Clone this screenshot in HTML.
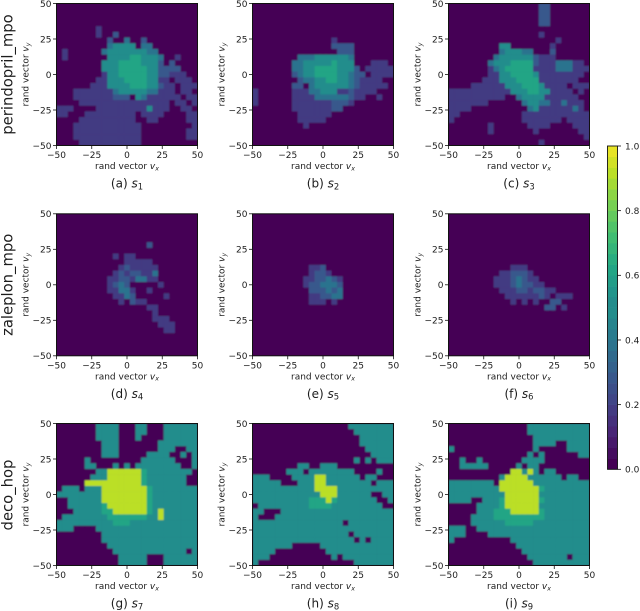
<!DOCTYPE html>
<html lang="en">
<head>
<meta charset="utf-8">
<title>Random vector heatmaps</title>
<style>
html,body{margin:0;padding:0;background:#fff;width:640px;height:611px;overflow:hidden}
svg{display:block}
text{font-family:"DejaVu Sans","Liberation Sans",sans-serif;fill:#1c1c1c}
</style>
</head>
<body>
<svg id="chart" width="640" height="611" viewBox="0 0 640 611" xmlns="http://www.w3.org/2000/svg">
<defs>
<filter id="soften" x="-5%" y="-5%" width="110%" height="110%"><feGaussianBlur stdDeviation="0.75"/></filter>
</defs>
</svg>
<script>
const xTicks = [-50, -25, 0, 25, 50];
const yTicks = [-50, -25, 0, 25, 50];
const colorbarTicks = [0, 0.2, 0.4, 0.6, 0.8, 1];
const rowNames = ['perindopril_mpo', 'zaleplon_mpo', 'deco_hop'];
const captionLetters = ['a', 'b', 'c', 'd', 'e', 'f', 'g', 'h', 'i'];
const viridisStops = ['#440154', '#482475', '#414487', '#355f8d', '#2a788e', '#21918c', '#22a884', '#44bf70', '#7ad151', '#bddf26', '#fde725'];
const blank = [0,0,0,0,0,0,0,0,0,0,0,0,0,0,0,0,0,0,0,0,0,0,0,0,0];

/* Heatmap values: tenths of the colour scale. Rows run from v_y = 50 down to -50, columns from v_x = -50 to 50. */
const s1Values = [
blank,blank,blank,blank,
[0,0,0,0,0, 0,0,2,0,0, 0,0,0,0,0, 0,0,0,0,0, 0,0,0,0,0],
[0,0,0,0,0, 0,0,2,0,0, 3,0,0,0,0, 0,0,0,0,0, 0,0,0,0,0],
[0,0,0,0,0, 0,0,0,0,3, 0,0,4,0,0, 3,0,0,0,0, 0,0,0,0,0],
[0,0,0,0,0, 0,0,0,0,4, 5,5,5,5,0, 4,4,0,0,0, 0,0,0,0,0],
[0,2,0,0,0, 0,0,0,4,5, 5,5,5,5,5, 5,4,4,0,0, 0,0,0,0,0],
[0,2,0,0,0, 0,0,0,0,5, 5,5,5,6,6, 5,5,5,4,0, 0,2,0,0,0],
[0,0,0,0,0, 0,0,0,5,5, 5,6,6,6,6, 5,5,5,3,0, 3,0,0,0,0],
[0,0,0,0,0, 0,0,0,5,5, 5,6,6,6,6, 6,5,5,3,3, 3,3,0,0,0],
[0,0,0,0,0, 0,0,0,2,5, 5,6,6,6,6, 6,5,5,3,3, 2,2,2,0,0],
[0,0,0,0,0, 0,0,2,2,5, 5,5,6,6,6, 6,5,5,2,2, 0,2,2,2,0],
[0,0,0,0,0, 0,2,2,2,5, 5,5,5,6,6, 6,5,5,3,2, 2,0,2,2,2],
[0,0,0,2,2, 2,2,2,2,2, 4,5,5,5,5, 5,4,4,2,2, 2,0,2,2,0],
[0,0,0,2,2, 2,2,2,2,2, 3,3,3,0,5, 4,2,2,2,2, 2,2,0,2,2],
[0,0,0,0,2, 2,2,2,2,2, 2,2,2,2,2, 2,2,2,2,2, 0,2,2,0,2],
[2,2,2,0,0, 0,0,2,2,2, 2,2,2,2,2, 2,5,2,2,2, 0,0,2,2,0],
[2,2,0,0,0, 2,2,2,2,2, 2,2,2,2,0, 2,2,2,2,0, 0,0,0,2,2],
[0,0,0,0,2, 2,2,2,2,2, 2,2,2,2,0, 0,2,2,0,0, 0,0,0,2,2],
[0,0,0,2,2, 2,2,2,2,2, 2,2,2,2,2, 0,0,0,0,0, 0,0,0,0,2],
[0,0,0,2,2, 2,2,2,2,2, 2,2,2,2,2, 0,0,0,0,0, 0,0,0,2,2],
[0,0,0,2,2, 2,2,2,2,2, 2,2,2,2,2, 0,0,0,0,0, 0,0,0,2,2],
[0,0,0,0,2, 2,2,2,2,2, 2,2,2,2,2, 0,0,0,0,0, 0,0,0,0,0]
];
const s2Values = [
blank,blank,blank,blank,blank,blank,
[0,0,0,0,0, 0,0,0,0,0, 0,0,0,0,2, 0,0,0,0,0, 0,0,0,0,0],
[0,0,0,0,0, 0,0,0,0,0, 0,0,0,0,3, 3,3,3,0,0, 0,0,0,0,0],
[0,0,0,0,0, 0,0,0,0,0, 0,0,0,0,0, 3,3,3,0,0, 0,0,0,0,0],
[0,0,0,0,0, 0,0,0,4,4, 4,5,5,5,5, 5,5,4,0,0, 0,0,0,0,0],
[0,0,0,0,0, 0,0,4,4,5, 5,5,5,5,6, 5,5,5,0,0, 0,2,2,2,0],
[0,0,0,0,0, 0,0,4,4,5, 5,6,6,6,6, 5,5,5,3,0, 2,2,2,2,2],
[0,0,0,0,0, 0,0,3,4,5, 5,6,6,6,6, 5,5,4,3,3, 0,2,2,2,2],
[0,0,0,0,0, 0,0,0,3,4, 4,5,5,6,6, 5,5,4,3,2, 2,2,2,0,0],
[0,0,0,0,0, 0,0,3,3,0, 4,5,5,5,5, 5,5,4,3,2, 2,2,2,2,0],
[2,0,0,0,0, 0,0,2,2,2, 4,4,5,5,5, 2,2,3,2,2, 2,2,0,0,0],
[2,0,0,0,0, 0,0,2,2,2, 2,4,4,4,4, 4,4,3,2,2, 0,0,2,0,0],
[2,0,0,0,0, 0,0,2,2,2, 2,2,2,2,3, 3,3,2,0,0, 0,0,0,0,0],
[0,0,0,0,0, 0,0,2,2,2, 2,2,2,2,3, 3,0,0,0,0, 0,0,0,0,0],
[0,0,0,0,0, 0,0,0,2,2, 2,2,2,2,0, 0,0,0,0,0, 0,0,0,0,0],
[0,0,0,0,0, 0,0,0,2,2, 2,2,2,0,0, 0,0,0,0,0, 0,0,0,0,0],
[0,0,0,0,0, 0,0,0,0,2, 0,0,0,0,0, 0,0,0,0,0, 0,0,0,0,0],
blank,blank,blank
];
const s3Values = [
[0,0,0,0,0, 0,0,0,0,0, 0,0,0,0,0, 0,3,3,0,0, 0,0,0,0,0],
[0,0,0,0,0, 0,0,0,0,0, 0,0,0,0,0, 0,3,3,0,0, 0,0,0,0,0],
[0,0,0,0,0, 0,0,0,0,0, 0,0,0,0,0, 0,3,3,0,0, 0,0,0,0,0],
[0,0,0,0,0, 0,0,0,0,0, 0,0,0,0,0, 0,3,3,0,0, 0,0,0,0,0],
blank,
[0,0,0,0,0, 0,0,0,0,0, 0,0,0,0,0, 0,2,0,0,0, 0,0,0,0,0],
[0,0,0,0,0, 0,0,0,0,0, 0,0,0,0,0, 0,0,0,0,2, 0,0,0,0,0],
[0,0,0,0,0, 0,0,0,0,5, 5,0,0,0,0, 0,0,0,2,0, 0,0,0,0,0],
[0,0,0,0,0, 0,0,0,0,4, 5,5,5,4,4, 0,0,0,3,0, 0,0,0,0,0],
[0,0,0,0,0, 0,0,0,4,5, 5,5,5,5,5, 3,2,2,2,0, 0,0,0,0,0],
[0,0,0,0,0, 0,0,4,5,5, 5,6,6,6,6, 3,2,2,2,4, 4,4,2,2,0],
[0,0,0,0,0, 0,0,2,4,5, 6,6,6,6,6, 2,2,2,2,4, 4,4,2,2,2],
[0,0,0,0,0, 0,0,2,2,5, 5,6,6,6,6, 5,2,2,2,2, 2,2,2,2,0],
[0,0,0,0,0, 0,2,2,2,5, 5,5,6,6,6, 6,2,2,2,2, 2,2,2,0,0],
[0,0,0,0,2, 2,2,2,2,2, 5,5,5,6,6, 6,5,2,2,2, 2,0,2,2,2],
[2,2,2,2,2, 2,2,2,2,2, 2,5,5,5,6, 6,5,5,2,2, 2,2,0,2,0],
[2,2,2,2,2, 2,2,2,2,2, 0,0,4,5,5, 5,5,2,2,2, 2,2,2,0,0],
[2,2,2,2,2, 2,2,0,0,0, 0,0,0,4,5, 5,4,4,2,2, 4,2,2,2,0],
[2,2,2,2,0, 0,0,0,0,0, 0,0,0,0,4, 5,2,2,2,2, 2,2,4,2,0],
[2,2,0,0,0, 0,0,0,0,0, 0,0,0,2,2, 2,2,2,2,2, 2,2,2,2,2],
[2,0,0,0,0, 0,0,0,0,0, 0,0,0,2,2, 2,2,2,2,2, 0,2,2,2,2],
[0,0,0,0,0, 0,0,2,0,0, 0,0,0,0,2, 2,2,2,0,0, 0,0,2,2,2],
[0,0,0,0,0, 0,0,2,0,0, 0,0,0,0,0, 2,0,0,0,0, 0,0,0,2,2],
[0,0,0,0,0, 0,0,0,0,0, 0,0,0,0,0, 0,0,0,0,0, 0,0,0,0,2],
[0,0,0,0,0, 0,0,0,0,0, 0,0,0,0,0, 0,2,0,0,0, 0,0,0,0,0]
];
const s4Values = [
blank,blank,blank,blank,blank,
[0,0,0,0,0, 0,0,0,0,0, 0,0,0,0,0, 0,3,0,0,0, 0,0,0,0,0],
blank,
[0,0,0,0,0, 0,0,0,0,0, 2,0,2,2,0, 0,0,0,0,0, 0,0,0,0,0],
[0,0,0,0,0, 0,0,0,0,0, 0,0,2,2,2, 2,2,0,0,0, 0,0,0,0,0],
[0,0,0,0,0, 0,0,0,0,0, 0,2,3,2,2, 2,2,2,0,0, 0,0,0,0,0],
[0,0,0,0,0, 0,0,0,0,0, 2,3,2,3,3, 2,2,4,0,0, 0,0,0,0,0],
[0,0,0,0,0, 0,0,0,0,2, 2,3,3,2,4, 4,2,2,0,0, 0,0,0,0,0],
[0,0,0,0,0, 0,0,0,0,2, 3,4,3,0,0, 0,0,0,2,0, 0,0,0,0,0],
[0,0,0,0,0, 0,0,0,0,2, 2,4,4,2,0, 0,2,0,0,0, 0,0,0,0,0],
[0,0,0,0,0, 0,0,0,0,0, 2,2,4,3,0, 0,0,0,0,2, 0,0,0,0,0],
[0,0,0,0,0, 0,0,0,0,0, 0,2,0,3,2, 2,0,0,0,0, 0,0,0,0,0],
[0,0,0,0,0, 0,0,0,0,0, 0,0,0,0,0, 0,2,2,0,0, 0,0,0,0,0],
[0,0,0,0,0, 0,0,0,0,0, 0,0,0,0,0, 0,0,2,0,0, 0,0,0,0,0],
[0,0,0,0,0, 0,0,0,0,0, 0,0,0,0,0, 0,0,2,2,2, 0,0,0,0,0],
[0,0,0,0,0, 0,0,0,0,0, 0,0,0,0,0, 0,0,0,2,2, 2,0,0,0,0],
[0,0,0,0,0, 0,0,0,0,0, 0,0,0,0,0, 0,0,0,0,2, 2,0,0,0,0],
blank,blank,blank,blank
];
const s5Values = [
blank,blank,blank,blank,blank,blank,blank,blank,blank,
[0,0,0,0,0, 0,0,0,0,0, 2,2,3,0,0, 0,0,0,0,0, 0,0,0,0,0],
[0,0,0,0,0, 0,0,0,0,0, 2,3,3,2,0, 0,0,0,0,0, 0,0,0,0,0],
[0,0,0,0,0, 0,0,0,0,2, 2,3,3,4,3, 2,0,0,0,0, 0,0,0,0,0],
[0,0,0,0,0, 0,0,0,0,2, 3,3,4,4,4, 3,0,0,0,0, 0,0,0,0,0],
[0,0,0,0,0, 0,0,0,0,0, 3,3,3,4,3, 4,0,0,0,0, 0,0,0,0,0],
[0,0,0,0,0, 0,0,0,0,0, 2,2,3,3,4, 4,0,0,0,0, 0,0,0,0,0],
[0,0,0,0,0, 0,0,0,0,0, 2,2,2,0,2, 0,0,0,0,0, 0,0,0,0,0],
blank,blank,blank,blank,blank,blank,blank,blank,blank
];
const s6Values = [
blank,blank,blank,blank,blank,blank,blank,blank,blank,
[0,0,0,0,0, 0,0,0,0,0, 0,2,2,2,0, 0,0,0,0,0, 0,0,0,0,0],
[0,0,0,0,0, 0,0,0,0,2, 2,3,3,3,2, 0,0,0,0,0, 0,0,0,0,0],
[0,0,0,0,0, 0,0,0,2,2, 2,3,4,3,2, 2,0,0,0,0, 0,0,0,0,0],
[0,0,0,0,0, 0,0,0,2,2, 2,3,4,3,3, 2,2,0,0,0, 0,0,0,0,0],
[0,0,0,0,0, 0,0,0,0,2, 2,2,3,3,2, 3,3,2,2,0, 0,0,0,0,0],
[0,0,0,0,0, 0,0,0,0,0, 2,2,2,2,2, 2,3,2,0,2, 2,2,0,0,0],
[0,0,0,0,0, 0,0,0,0,0, 0,2,0,2,0, 2,0,0,3,3, 0,0,0,0,0],
[0,0,0,0,0, 0,0,0,0,0, 0,0,0,0,0, 0,0,3,3,0, 2,0,0,0,0],
blank,blank,blank,blank,blank,blank,blank,blank
];
const s7Values = [
[0,0,0,0,0, 0,0,5,5,5, 5,0,0,0,5, 5,0,0,0,5, 5,5,5,5,5],
[0,0,0,0,0, 0,0,5,5,5, 5,0,0,0,5, 5,0,0,0,5, 5,5,5,5,5],
[0,0,0,0,0, 0,0,5,5,5, 5,0,0,0,5, 0,0,0,0,5, 5,5,5,5,5],
[0,0,0,0,0, 0,0,0,5,5, 5,0,0,0,0, 0,0,0,5,5, 5,5,5,5,5],
[0,0,0,0,0, 0,0,0,5,5, 5,0,0,0,0, 0,0,0,5,5, 5,0,0,5,5],
[0,0,0,0,0, 0,0,0,5,5, 5,0,0,0,0, 0,5,5,5,5, 0,0,5,0,5],
[0,0,0,0,0, 5,0,0,0,0, 0,0,0,0,0, 5,5,5,5,5, 5,0,0,0,5],
[0,0,0,0,0, 5,5,0,0,0, 5,0,5,0,5, 5,5,5,5,5, 5,5,0,0,5],
[0,0,0,0,0, 0,0,5,5,9, 9,9,9,9,9, 6,5,5,5,5, 5,5,5,5,0],
[0,0,0,0,0, 0,5,5,5,9, 9,9,9,9,9, 6,5,5,5,5, 5,5,5,0,0],
[0,0,0,0,0, 9,9,9,9,9, 9,9,9,9,9, 6,5,5,5,5, 5,5,5,0,0],
[0,5,5,5,0, 5,5,5,9,9, 9,9,9,9,9, 9,6,5,5,5, 5,5,5,5,5],
[5,5,5,5,5, 5,5,5,9,9, 9,9,9,9,9, 9,6,5,5,5, 5,5,5,5,5],
[0,0,5,5,5, 5,5,5,9,9, 9,9,9,9,9, 9,6,5,5,5, 5,5,5,5,5],
[0,0,5,5,5, 5,5,5,6,9, 9,9,9,9,9, 9,6,5,5,5, 5,5,5,5,5],
[0,0,0,5,5, 5,5,5,6,6, 9,9,9,9,9, 9,6,5,9,5, 5,5,5,5,5],
[0,5,5,5,5, 5,5,5,5,6, 6,6,6,6,6, 6,5,5,9,5, 5,5,5,5,5],
[5,5,5,5,5, 5,5,5,5,5, 6,6,6,5,5, 5,5,5,5,5, 5,5,5,5,5],
[5,5,5,0,0, 0,0,5,5,5, 5,5,5,5,5, 5,5,5,5,5, 5,5,5,5,5],
[0,0,0,0,0, 0,0,0,5,5, 5,5,5,5,5, 5,5,5,5,5, 5,5,5,5,5],
[0,0,0,0,0, 0,0,0,5,5, 5,5,5,5,5, 5,5,5,5,5, 5,5,5,5,5],
[0,0,0,0,0, 0,0,0,0,5, 5,5,5,5,5, 5,5,5,5,5, 5,5,5,5,5],
[0,0,0,0,0, 0,0,0,0,0, 5,5,5,5,5, 5,5,5,5,5, 5,5,5,0,5],
[0,0,0,0,0, 0,0,0,0,0, 0,5,5,5,5, 5,0,0,0,5, 5,5,5,5,5],
[0,0,0,0,0, 0,0,0,0,0, 0,5,5,5,5, 5,0,0,0,5, 5,5,5,5,5]
];
const s8Values = [
[0,0,0,0,0, 0,0,0,0,0, 0,0,0,0,0, 0,0,5,5,5, 5,5,5,5,5],
[0,0,0,0,0, 0,0,0,0,0, 0,0,0,0,0, 0,0,0,5,5, 5,5,5,5,5],
[0,0,0,0,0, 0,0,0,0,0, 0,0,0,0,0, 0,0,0,0,5, 5,5,5,5,5],
[0,0,0,0,0, 0,0,0,0,0, 0,0,0,0,0, 0,0,0,0,5, 5,5,5,5,5],
[0,0,0,0,0, 0,0,0,0,0, 0,0,0,0,0, 0,0,0,0,0, 5,5,5,5,5],
[0,0,0,0,0, 0,0,0,0,0, 0,0,0,0,0, 0,0,0,0,0, 0,5,5,5,5],
[0,0,0,0,0, 0,0,0,0,0, 0,0,0,0,0, 0,0,0,5,0, 5,0,5,5,5],
[0,0,0,0,0, 0,0,0,5,5, 0,0,5,5,5, 0,0,0,0,0, 0,0,0,0,0],
[0,0,0,0,0, 0,5,5,5,0, 5,5,5,5,5, 5,5,5,0,0, 0,0,5,0,0],
[5,5,5,0,0, 0,0,5,5,5, 5,9,9,5,5, 5,5,5,5,0, 5,5,0,0,0],
[5,5,5,5,5, 0,0,0,5,5, 5,9,9,5,5, 5,5,5,5,5, 5,0,5,5,5],
[5,5,5,5,5, 5,5,5,5,5, 5,9,9,9,9, 5,5,5,5,5, 5,5,5,5,5],
[5,5,5,5,5, 5,5,5,5,5, 5,5,9,9,9, 5,5,5,5,5, 5,0,0,5,5],
[5,5,5,5,5, 5,5,5,5,5, 6,6,6,9,6, 5,5,5,5,5, 5,5,0,0,5],
[0,5,5,5,5, 5,5,5,5,5, 6,6,6,6,5, 5,5,5,5,5, 5,5,5,0,0],
[5,5,0,0,0, 5,5,5,5,5, 5,5,5,5,5, 5,5,5,5,5, 5,5,5,5,5],
[5,0,0,0,5, 5,5,5,5,5, 5,5,5,5,5, 5,5,5,5,5, 5,5,5,5,5],
[5,5,5,5,5, 5,5,5,5,5, 5,5,5,5,5, 5,0,5,5,5, 5,5,5,5,5],
[5,5,5,5,5, 5,5,5,5,5, 5,5,5,5,5, 5,5,5,5,5, 5,5,5,5,5],
[5,5,5,5,5, 5,5,5,5,5, 5,5,5,5,5, 5,5,0,5,5, 5,5,5,5,5],
[5,5,5,5,5, 5,5,5,5,5, 5,5,5,5,5, 5,5,5,0,5, 0,5,5,5,5],
[5,5,5,5,5, 5,5,0,0,0, 0,0,5,5,5, 5,5,5,5,5, 5,5,5,5,5],
[5,5,5,5,0, 0,0,0,0,0, 0,0,0,5,5, 5,5,5,5,5, 5,5,5,5,5],
[5,5,5,0,0, 0,0,0,0,0, 0,0,0,0,5, 0,5,5,5,5, 5,5,5,5,5],
[5,0,0,0,0, 0,0,0,0,0, 0,0,0,0,0, 0,0,0,5,5, 5,5,5,5,5]
];
const s9Values = [
[0,0,0,0,0, 0,0,0,0,0, 0,0,0,0,5, 5,5,5,5,5, 5,5,5,5,5],
[0,0,0,0,0, 0,0,0,0,0, 0,0,0,0,5, 5,5,5,5,5, 5,5,5,5,5],
[0,0,0,0,0, 0,0,0,0,0, 0,0,0,0,0, 5,5,5,5,5, 5,5,5,5,5],
[0,0,0,0,0, 0,0,0,0,0, 0,0,0,0,0, 5,5,5,5,0, 0,5,5,5,5],
[5,0,0,0,0, 0,0,0,0,0, 0,0,0,0,0, 5,0,0,0,0, 0,5,5,5,5],
[0,0,0,0,0, 0,0,0,0,0, 0,0,0,0,5, 0,5,0,0,0, 0,0,0,5,5],
[0,0,5,0,0, 5,0,0,0,0, 0,0,0,5,5, 5,5,0,0,0, 0,0,0,0,0],
[0,0,5,5,5, 5,5,0,0,0, 0,0,5,0,5, 5,0,0,0,0, 0,0,0,0,0],
[0,0,0,0,0, 0,0,0,0,0, 0,9,9,5,9, 5,0,5,5,0, 0,0,0,0,0],
[0,0,0,0,0, 0,0,0,0,5, 9,9,9,9,5, 5,5,5,5,5, 0,5,5,0,0],
[5,5,5,5,5, 5,5,5,0,9, 9,9,9,9,9, 5,5,5,5,5, 5,5,5,5,5],
[5,5,5,5,5, 5,5,5,5,9, 9,9,9,9,9, 9,6,5,5,5, 5,5,5,5,5],
[5,5,5,5,5, 5,5,5,5,5, 9,9,9,9,9, 9,5,5,5,5, 5,5,5,5,5],
[5,5,5,5,0, 0,5,5,5,6, 9,9,9,9,9, 9,6,5,5,5, 5,5,5,5,5],
[0,0,0,0,0, 5,5,5,5,6, 9,9,9,9,9, 9,5,5,5,5, 5,5,5,5,5],
[0,0,0,0,0, 5,5,5,6,6, 6,9,9,9,9, 9,6,5,5,5, 5,5,5,5,5],
[0,0,0,0,5, 5,5,5,6,6, 6,6,6,6,6, 6,6,5,5,5, 5,5,5,5,5],
[0,0,0,0,5, 5,5,5,5,5, 6,6,6,6,6, 5,5,5,5,5, 5,5,5,5,5],
[5,5,5,0,0, 5,5,5,5,5, 5,5,5,5,5, 5,5,5,5,5, 5,5,5,5,5],
[5,5,5,0,0, 0,0,5,5,5, 5,5,5,5,5, 5,5,5,5,5, 5,5,5,5,5],
[5,0,0,0,0, 0,0,0,0,0, 0,5,5,5,5, 5,5,5,5,5, 5,5,5,5,5],
[0,0,0,0,0, 0,0,0,0,0, 0,0,5,5,5, 5,5,5,5,5, 5,5,5,5,5],
[0,0,0,0,0, 0,0,0,0,0, 0,0,0,5,5, 5,5,5,5,5, 5,5,5,5,5],
[0,0,0,0,0, 0,0,0,0,0, 0,0,0,0,5, 5,5,5,5,5, 5,0,5,5,5],
[0,0,0,0,0, 0,0,0,0,0, 0,0,0,0,0, 5,5,5,5,5, 5,5,5,5,5]
];
const panelValues = [s1Values, s2Values, s3Values, s4Values, s5Values, s6Values, s7Values, s8Values, s9Values];

const NS = 'http://www.w3.org/2000/svg';
const svg = document.getElementById('chart');
const panelWidth = 141;
const panelHeight = 142;
const columnLefts = [56.5, 252.5, 448.5];
const rowTops = [3.5, 213.8, 423.5];
const valueDivisor = 10;
const colorLevels = 30;
const domainMin = -50;
const domainMax = 50;

function xScale(left, v) { return left + (v - domainMin) / (domainMax - domainMin) * panelWidth; }
function yScale(top, v) { return top + (domainMax - v) / (domainMax - domainMin) * panelHeight; }

function hexToRgb(h) { return [1, 3, 5].map(function (i) { return parseInt(h.substr(i, 2), 16); }); }
function colorFor(value) {
  const clamped = Math.max(0, Math.min(1, value));
  const level = Math.floor(clamped * (colorLevels - 1) + 1e-6) / (colorLevels - 1);
  const pos = level * (viridisStops.length - 1);
  const i = Math.min(Math.floor(pos), viridisStops.length - 2);
  const a = hexToRgb(viridisStops[i]);
  const b = hexToRgb(viridisStops[i + 1]);
  const t = pos - i;
  return 'rgb(' + a.map(function (c, k) { return Math.round(c + (b[k] - c) * t); }).join(',') + ')';
}
function make(tag, parent, attrs) {
  const node = document.createElementNS(NS, tag);
  Object.keys(attrs).forEach(function (k) { node.setAttribute(k, attrs[k]); });
  parent.appendChild(node);
  return node;
}
function addSpan(parent, content, attrs) {
  const span = make('tspan', parent, attrs);
  span.textContent = content;
  return span;
}
function tickText(v) { return String(v).replace('-', '\u2212'); }

const defs = svg.querySelector('defs');

panelValues.forEach(function (values, index) {
  const col = index % 3;
  const row = Math.floor(index / 3);
  const left = columnLefts[col];
  const top = rowTops[row];
  const bottom = top + panelHeight;
  const panelNo = index + 1;

  const group = make('g', svg, {});
  
  

  const clip = make('clipPath', defs, { id: 'clip-' + panelNo });
  make('rect', clip, { x: left, y: top, width: panelWidth, height: panelHeight });

  const background = make('rect', group, { x: left, y: top, width: panelWidth, height: panelHeight, fill: colorFor(0) });
  
  

  const clipGroup = make('g', group, { 'clip-path': 'url(#clip-' + panelNo + ')' });
  
  
  const cells = make('g', clipGroup, { filter: 'url(#soften)' });
  
  

  const cols = values[0].length;
  const step = (domainMax - domainMin) / cols;
  const rowStep = (domainMax - domainMin) / values.length;
  values.forEach(function (rowValues, r) {
    rowValues.forEach(function (v, c) {
      const x0 = xScale(left, domainMin + c * step);
      const x1 = xScale(left, domainMin + (c + 1) * step);
      const y0 = yScale(top, domainMax - r * rowStep);
      const y1 = yScale(top, domainMax - (r + 1) * rowStep);
      const cell = make('rect', cells, { x: x0, y: y0, width: x1 - x0 + 0.3, height: y1 - y0 + 0.3, fill: colorFor(v / valueDivisor) });
      
      
    });
  });

  const frame = make('rect', group, { x: left, y: top, width: panelWidth, height: panelHeight, fill: 'none', stroke: '#111', 'stroke-width': 1 });
  
  

  xTicks.forEach(function (t) {
    const x = xScale(left, t);
    const mark = make('line', group, { x1: x, x2: x, y1: bottom, y2: bottom + 3.5, stroke: '#111', 'stroke-width': 0.8 });
    
    
    const label = make('text', group, { x: x, y: bottom + 12.5, 'text-anchor': 'middle', 'font-size': 9 });
    label.textContent = tickText(t);
    
    
  });
  yTicks.forEach(function (t) {
    const y = yScale(top, t);
    const mark = make('line', group, { x1: left - 3.5, x2: left, y1: y, y2: y, stroke: '#111', 'stroke-width': 0.8 });
    
    
    const label = make('text', group, { x: left - 5, y: y + 3.3, 'text-anchor': 'end', 'font-size': 9 });
    label.textContent = tickText(t);
    
    
  });

  const xTitle = make('text', group, { x: left + panelWidth / 2, y: bottom + 23.5, 'text-anchor': 'middle', 'font-size': 9 });
  
  
  addSpan(xTitle, 'rand vector ', {});
  addSpan(xTitle, 'v', { 'font-style': 'italic' });
  addSpan(xTitle, 'x', { 'font-style': 'italic', 'font-size': 6.3, dy: 1.4 });

  const yCenter = top + panelHeight / 2;
  const yTitle = make('text', group, { transform: 'translate(' + (left - 28) + ' ' + yCenter + ') rotate(-90)', 'text-anchor': 'middle', 'font-size': 9 });
  
  
  addSpan(yTitle, 'rand vector ', {});
  addSpan(yTitle, 'v', { 'font-style': 'italic' });
  addSpan(yTitle, 'y', { 'font-style': 'italic', 'font-size': 6.3, dy: 1.4 });

  const caption = make('text', group, { x: left + panelWidth / 2, y: bottom + 42, 'text-anchor': 'middle', 'font-size': 12 });
  
  
  addSpan(caption, '(' + captionLetters[index] + ') ', {});
  addSpan(caption, 's', { 'font-style': 'italic' });
  addSpan(caption, String(panelNo), { 'font-size': 8.4, dy: 1.8 });
});

rowNames.forEach(function (name, r) {
  const center = rowTops[r] + panelHeight / 2 + (r === 2 ? 0.5 : 0);
  const label = make('text', svg, { transform: 'translate(12.5 ' + center + ') rotate(-90)', 'text-anchor': 'middle', 'font-size': 14.8 });
  label.textContent = name;
  
  
});

/* Colour bar */
const barLeft = 607.5, barRight = 617.5, barTop = 146, barBottom = 469.3;
function barScale(v) { return barBottom - v * (barBottom - barTop); }
const bar = make('g', svg, {});


for (let i = 0; i < colorLevels; i++) {
  const y0 = barScale((i + 1) / colorLevels);
  const y1 = barScale(i / colorLevels);
  const band = make('rect', bar, { x: barLeft, y: y0, width: barRight - barLeft, height: y1 - y0 + 0.3, fill: colorFor((i + 0.5) / colorLevels) });
  
  
}
const barFrame = make('rect', bar, { x: barLeft, y: barTop, width: barRight - barLeft, height: barBottom - barTop, fill: 'none', stroke: '#111', 'stroke-width': 0.9 });


colorbarTicks.forEach(function (t) {
  const y = barScale(t);
  const mark = make('line', bar, { x1: barRight, x2: barRight + 3.5, y1: y, y2: y, stroke: '#111', 'stroke-width': 0.8 });
  
  
  const label = make('text', bar, { x: barRight + 7.5, y: y + 3.3, 'font-size': 9 });
  label.textContent = t.toFixed(1);
  
  
});
</script>
</body>
</html>
